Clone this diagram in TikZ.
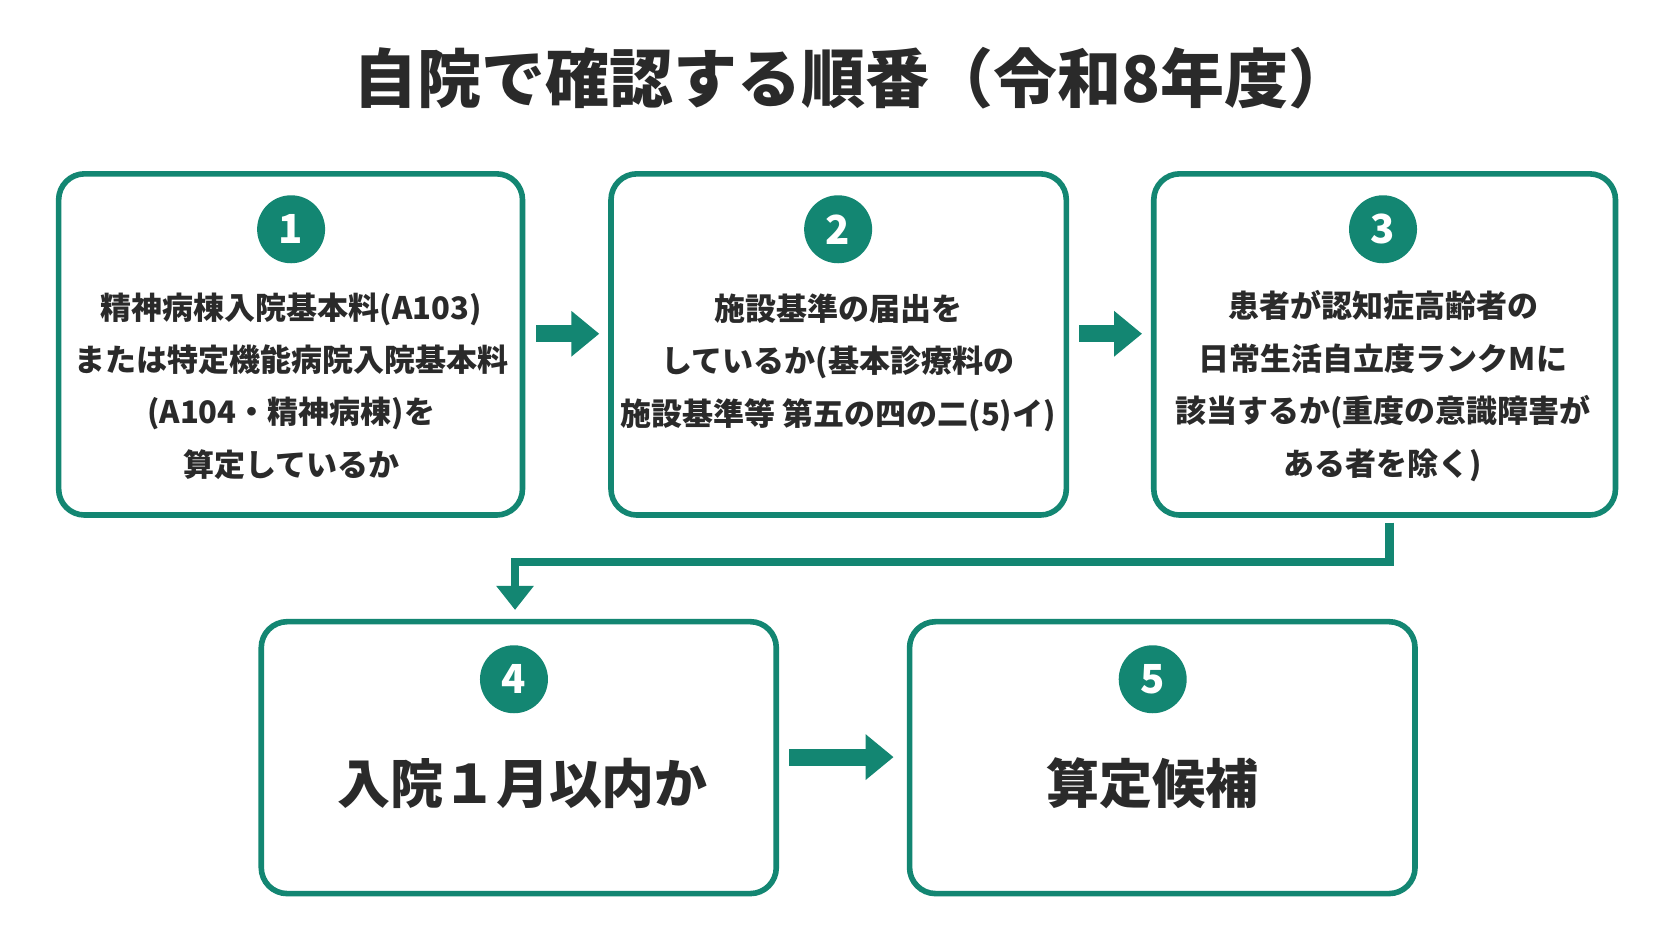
\documentclass[tikz,border=0pt]{standalone}
\usepackage{fontspec}
\setmainfont{Noto Sans CJK JP}
\usetikzlibrary{arrows.meta}
\definecolor{teal}{HTML}{138672}
\definecolor{ink}{HTML}{2A2A2A}
\begin{document}
\begin{tikzpicture}[x=0.5332pt,y=-0.5332pt,
  box/.style={draw=teal,line width=2.8pt,rounded corners=13pt},
  num/.style={circle,fill=teal,minimum size=34pt,inner sep=0pt,text=white,font=\bfseries\fontsize{20}{20}\selectfont},
  txt/.style={align=center,text=ink,font=\bfseries\fontsize{15.5}{26.2}\selectfont},
  big/.style={align=center,text=ink,font=\bfseries\fontsize{26.5}{30}\selectfont},
  blk/.style={teal,line width=8.5pt,-{Triangle[length=14pt,width=22pt]}}]
\fill[white] (0,0) rectangle (1568,882);
\useasboundingbox (0,0) rectangle (1568,882);
\node[text=ink,font=\bfseries\fontsize{32}{34}\selectfont] (title) at (800,73) {自院で確認する順番（令和8年度）};
\draw[box] (55,163) rectangle (490,483);
\draw[box] (573,163) rectangle (1000,483);
\draw[box] (1082,163) rectangle (1515,483);
\draw[box] (245,583) rectangle (728,838);
\draw[box] (853,583) rectangle (1327,838);
\node[num] (n1) at (273,215) {1};
\node[num] (n2) at (786,215) {2};
\node[num] (n3) at (1297,215) {3};
\node[num] (n4) at (482,637) {4};
\node[num] (n5) at (1081,637) {5};
\node[txt] (t1) at (273,362) {精神病棟入院基本料(A103)\\または特定機能病院入院基本料\\(A104・精神病棟)を\\算定しているか};
\node[txt] (t2) at (786,340) {施設基準の届出を\\しているか(基本診療料の\\施設基準等 第五の四の二(5)イ)};
\node[txt] (t3) at (1297,362) {患者が認知症高齢者の\\日常生活自立度ランクMに\\該当するか(重度の意識障害が\\ある者を除く)};
\node[big] (t4) at (490,735) {入院１月以内か};
\node[big] (t5) at (1081,735) {算定候補};
\coordinate (a1s) at (503,313); \coordinate (a1e) at (562,313);
\coordinate (a2s) at (1012,313); \coordinate (a2e) at (1071,313);
\coordinate (a3s) at (740,710); \coordinate (a3e) at (838,710);
\draw[blk] (a1s) -- (a1e);
\draw[blk] (a2s) -- (a2e);
\draw[blk] (a3s) -- (a3e);
\coordinate (e1) at (1303,490); \coordinate (e2) at (483,572);
\draw[teal,line width=4.3pt,-{Triangle[length=12pt,width=18pt]}] (e1) |- (800,527) -| (e2);
\end{tikzpicture}
\end{document}
